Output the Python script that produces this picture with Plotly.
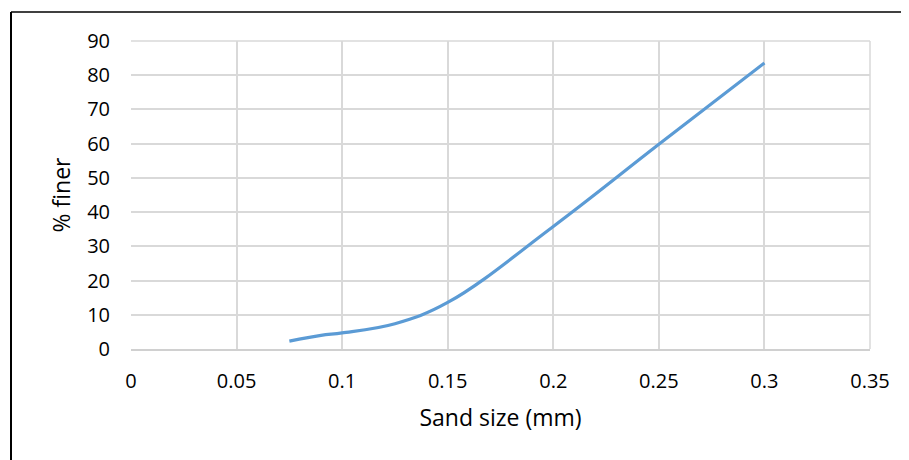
import plotly.graph_objects as go

# Data
sand_size_mm = [0.075, 0.09, 0.1, 0.125, 0.15, 0.2, 0.25, 0.3]
percent_finer = [2.3, 4.0, 4.7, 7.4, 13.6, 35.8, 59.8, 83.6]

x_tick_vals = [0, 0.05, 0.1, 0.15, 0.2, 0.25, 0.3, 0.35]
x_tick_text = ["0", "0.05", "0.1", "0.15", "0.2", "0.25", "0.3", "0.35"]
y_tick_vals = [0, 10, 20, 30, 40, 50, 60, 70, 80, 90]
y_tick_text = ["0", "10", "20", "30", "40", "50", "60", "70", "80", "90"]

# page has an 8px body margin; the figure is sized so it fills the 909x460 window
OFF = 8
W, H = 909 - OFF, 460 - OFF
ML, MR, MT, MB = 123, 39, 33, 111
PW = W - ML - MR
PH = H - MT - MB

def px_to_paper_x(px):
    return (px - OFF - ML) / PW

def px_to_paper_y(py):
    return (H - MB - (py - OFF)) / PH

FONT = "Open Sans, Lato, Liberation Sans, sans-serif"

fig = go.Figure()
fig.add_trace(go.Scatter(
    x=sand_size_mm,
    y=percent_finer,
    mode="lines",
    line=dict(color="#5b9bd5", width=3.2, shape="spline", smoothing=1.1),
    showlegend=False,
    hoverinfo="x+y",
))

grid = "#d9d9d9"
fig.update_xaxes(
    range=[0, 0.35],
    tickvals=x_tick_vals,
    ticktext=x_tick_text,
    showgrid=True,
    gridcolor=grid,
    gridwidth=1.5,
    zeroline=False,
    showline=True,
    linecolor="#d0d0d0",
    linewidth=1.5,
    mirror=False,
    ticks="",
    ticklabelstandoff=13,
    tickfont=dict(family=FONT, size=20, color="#000000"),
    title=dict(text="Sand size (mm)", font=dict(family=FONT, size=23, color="#000000"), standoff=17),
)
fig.update_yaxes(
    range=[0, 90],
    tickvals=y_tick_vals,
    ticktext=y_tick_text,
    showgrid=True,
    gridcolor=grid,
    gridwidth=1.5,
    zeroline=False,
    showline=False,
    ticks="",
    ticklabelstandoff=20,
    tickfont=dict(family=FONT, size=20, color="#000000"),
    title=dict(text="% finer", font=dict(family=FONT, size=23, color="#000000"), standoff=10),
)

# right & top plot-area edges
fig.add_shape(type="line", xref="paper", yref="paper", x0=1, x1=1, y0=0, y1=1,
              line=dict(color=grid, width=1.5), layer="below")
fig.add_shape(type="line", xref="paper", yref="paper", x0=0, x1=1, y0=1, y1=1,
              line=dict(color=grid, width=1.5), layer="below")

# outer chart border (left and top only visible)
lx = px_to_paper_x(11)
ty = px_to_paper_y(12)
fig.add_shape(type="line", xref="paper", yref="paper", x0=lx, x1=lx, y0=ty, y1=px_to_paper_y(470),
              line=dict(color="#000000", width=2))
fig.add_shape(type="line", xref="paper", yref="paper", x0=lx, x1=px_to_paper_x(920), y0=ty, y1=ty,
              line=dict(color="#000000", width=1.6))

fig.update_layout(
    width=W,
    height=H,
    margin=dict(l=ML, r=MR, t=MT, b=MB, pad=0),
    paper_bgcolor="#ffffff",
    plot_bgcolor="#ffffff",
    font=dict(family=FONT, color="#000000"),
)

fig.write_html("out.html")
